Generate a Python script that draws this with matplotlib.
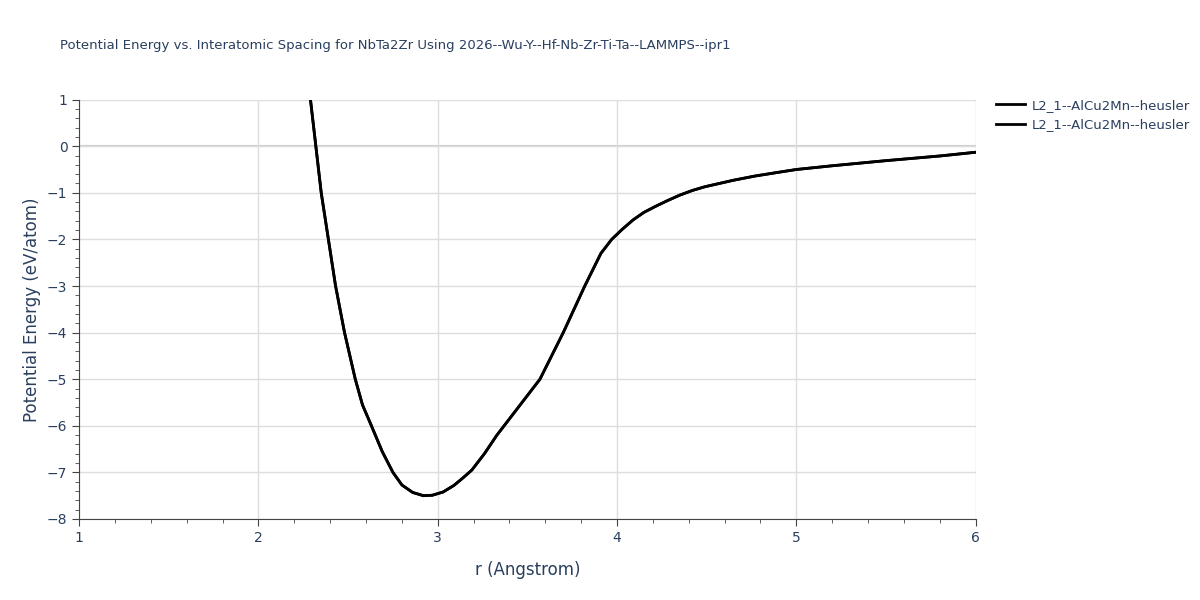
import matplotlib
matplotlib.use('Agg')
import matplotlib.pyplot as plt
import numpy as np

r = [2.29, 2.32, 2.35, 2.39, 2.43, 2.48, 2.54, 2.58, 2.63, 2.69, 2.75, 2.80, 2.86, 2.92, 2.97,
     3.03, 3.09, 3.14, 3.19, 3.26, 3.33, 3.38, 3.48, 3.57, 3.70, 3.82, 3.91, 3.97,
     4.03, 4.09, 4.15, 4.21, 4.28, 4.35, 4.42, 4.49, 4.57, 4.65, 4.77, 4.9, 5.0,
     5.2, 5.5, 5.8, 6.0]
energy = [1.0, 0.0, -1.0, -2.0, -3.0, -4.0, -5.0, -5.55, -6.0, -6.55, -7.0, -7.27, -7.43, -7.5, -7.49,
          -7.42, -7.28, -7.12, -6.95, -6.6, -6.2, -5.95, -5.45, -5.0, -4.0, -3.0, -2.3, -2.0,
          -1.78, -1.58, -1.42, -1.3, -1.17, -1.05, -0.95, -0.87, -0.8, -0.73, -0.64, -0.56, -0.5,
          -0.42, -0.31, -0.21, -0.13]
labels = ['L2_1--AlCu2Mn--heusler', 'L2_1--AlCu2Mn--heusler']

fig = plt.figure(figsize=(12, 6), dpi=100)
ax = fig.add_axes([0.066, 0.135, 0.747, 0.699])
for lab in labels:
    ax.plot(r, energy, color='black', linewidth=2, label=lab)
ax.axhline(0, color='#cccccc', linewidth=1.5, zorder=0)
ax.set_xlim(1, 6)
ax.set_ylim(-8, 1)
ax.set_xticks(range(1, 7))
ax.set_yticks(range(-8, 2))
ax.set_xticks(np.arange(1, 6.01, 0.2), minor=True)
ax.set_yticks(np.arange(-8, 1.01, 0.2), minor=True)
ax.grid(True, which='major', color='#dddddd', linewidth=1)
for s in ['top', 'right']:
    ax.spines[s].set_visible(False)
for s in ['left', 'bottom']:
    ax.spines[s].set_color('#444444')
ax.tick_params(colors='#2a3f5f', labelsize=10)
ax.tick_params(which='minor', length=3, color='#444444')
ax.tick_params(which='major', length=5, color='#444444')
ax.set_yticklabels([str(v).replace('-', '\u2212') for v in range(-8, 2)])
ax.set_xlabel('r (Angstrom)', color='#2a3f5f', fontsize=12, labelpad=12)
ax.set_ylabel('Potential Energy (eV/atom)', color='#2a3f5f', fontsize=12)
fig.text(0.05, 0.918, 'Potential Energy vs. Interatomic Spacing for NbTa2Zr Using 2026--Wu-Y--Hf-Nb-Zr-Ti-Ta--LAMMPS--ipr1',
         color='#2a3f5f', fontsize=9.5)
ax.legend(loc='upper left', bbox_to_anchor=(1.01, 1.03), frameon=False, fontsize=9.5,
          labelcolor='#2a3f5f', handlelength=2.2, handletextpad=0.5)
fig.savefig('out.png')
